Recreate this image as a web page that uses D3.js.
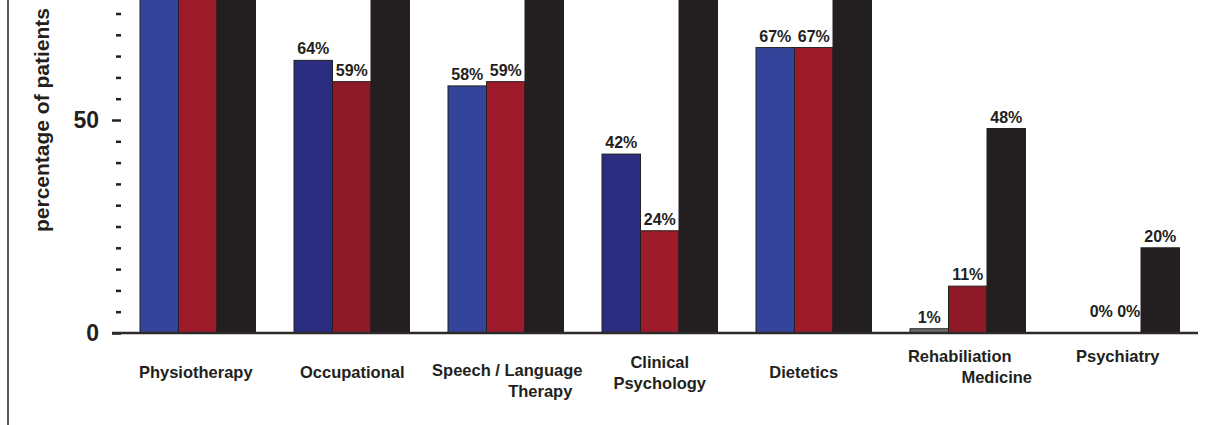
<!DOCTYPE html>
<html>
<head>
<meta charset="utf-8">
<script src="https://cdn.jsdelivr.net/npm/d3@7"></script>
<style>
    body { margin:0; background:#fff; }
    text { font-family: "Liberation Sans", Arial, sans-serif; font-weight:bold; fill:#231f20; }
</style>
</head>
<body>
<div id="chart-area"></div>
<script>
// ---- Data (top of the chart is cut off) ----
let categories = ["Physiotherapy", "Occupational", "Speech / Language Therapy",
    "Clinical Psychology", "Dietetics", "Rehabiliation Medicine", "Psychiatry"];
let categoryLines = [["Physiotherapy"], ["Occupational"], ["Speech / Language", "Therapy"],
    ["Clinical", "Psychology"], ["Dietetics"], ["Rehabiliation", "Medicine"], ["Psychiatry"]];
let seriesBlue  = [92, 64, 58, 42, 67, 1, 0];
let seriesRed   = [95, 59, 59, 24, 67, 11, 0];
let seriesBlack = [99, 84, 86, 88, 90, 48, 20];
let majorTicks = [0, 50];
let minorTicks = [5, 10, 15, 20, 25, 30, 35, 40, 45, 55, 60, 65, 70, 75, 80, 85, 90, 95];

// ---- Styling / layout (kept apart from the data) ----
let blueFill  = ["#33449a", "#2b2d80", "#33449a", "#2b2d80", "#33449a", "#6d6e71", "#33449a"];
let redFill   = ["#9e1b2b", "#8e1a28", "#9e1b2b", "#9e1b2b", "#9e1b2b", "#8e1a28", "#8e1a28"];
let blackFill = "#231f20";
// baseline of the first label line, and horizontal shift of each line from the group centre
let labelLayout = [
    { y:378, dx:[-2] }, { y:378, dx:[0.5] }, { y:376, dx:[1.5, 34.5] },
    { y:368, dx:[0, 0] }, { y:378, dx:[-10] }, { y:362, dx:[-8, 29] }, { y:362, dx:[-4] }
];

let width = 1215, height = 425;

let svg = d3.select("#chart-area").append("svg")
    .attr("width", width)
    .attr("height", height);

// left frame line
svg.append("line")
    .attr("x1", 8).attr("x2", 8)
    .attr("y1", 0).attr("y2", height)
    .attr("stroke", "#231f20")
    .attr("stroke-width", 1.5);

// ---- Scales ----
let x0 = d3.scaleBand()
    .domain(categories)
    .range([120.75, 1198.75])
    .paddingInner(0.25)
    .paddingOuter(0.125);

let x1 = d3.scaleBand()
    .domain(["blue", "red", "black"])
    .range([0, x0.bandwidth()]);

let y = d3.scaleLinear()
    .domain([0, 100])
    .range([333, 333 - 100 * 4.26]);

// ---- Axis ----
let axisX = 121;
let minorAxis = d3.axisLeft(y).tickValues(minorTicks).tickSize(5).tickFormat("");
let majorAxis = d3.axisLeft(y).tickValues(majorTicks).tickSize(9).tickPadding(13);

let gMinor = svg.append("g")
    .attr("transform", "translate(" + axisX + ",0)")
    .call(minorAxis);
gMinor.select(".domain").remove();
gMinor.selectAll(".tick line").attr("stroke", "#231f20").attr("stroke-width", 2.5);

let gMajor = svg.append("g")
    .attr("transform", "translate(" + axisX + ",0)")
    .call(majorAxis);
gMajor.select(".domain").remove();
gMajor.selectAll(".tick line").attr("stroke", "#231f20").attr("stroke-width", 2.5);
gMajor.selectAll(".tick text")
    .attr("font-size", "23px")
    .attr("font-family", "Liberation Sans, Arial, sans-serif")
    .attr("font-weight", "bold")
    .attr("fill", "#231f20");

// Y-axis label
svg.append("text")
    .attr("transform", "translate(49," + 120 + ") rotate(-90)")
    .attr("text-anchor", "middle")
    .attr("font-size", "21px")
    .text("percentage of patients");

// ---- Bars ----
let rows = categories.map(function(c, i){
    return [
        { cat:c, i:i, key:"blue",  value:seriesBlue[i],  fill:blueFill[i] },
        { cat:c, i:i, key:"red",   value:seriesRed[i],   fill:redFill[i] },
        { cat:c, i:i, key:"black", value:seriesBlack[i], fill:blackFill }
    ];
});

let groups = svg.selectAll(".group")
    .data(rows)
    .enter().append("g")
    .attr("class", "group")
    .attr("transform", function(d){ return "translate(" + x0(d[0].cat) + ",0)"; });

groups.selectAll("rect")
    .data(function(d){ return d; })
    .enter().append("rect")
    .attr("x", function(d){ return x1(d.key); })
    .attr("y", function(d){ return y(d.value); })
    .attr("width", x1.bandwidth())
    .attr("height", function(d){ return y(0) - y(d.value); })
    .attr("fill", function(d){ return d.fill; })
    .attr("stroke", "#231f20")
    .attr("stroke-width", 1);

// the two 0% labels in Psychiatry are pushed up and to the right
function labelNudge(d){
    if (d.value === 0 && d.key === "blue") return [18, -10];
    if (d.value === 0 && d.key === "red") return [7, -10];
    return [0, 0];
}

// labels of bars running past the top edge are cropped away in the picture
groups.selectAll(".value-label")
    .data(function(d){ return d.filter(function(b){ return y(b.value) - 20 > 0; }); })
    .enter().append("text")
    .attr("class", "value-label")
    .attr("x", function(d){ return x1(d.key) + x1.bandwidth() / 2 + labelNudge(d)[0]; })
    .attr("y", function(d){ return y(d.value) - 6 + labelNudge(d)[1]; })
    .attr("text-anchor", "middle")
    .attr("font-size", "16px")
    .text(function(d){ return d.value + "%"; });

// baseline
svg.append("line")
    .attr("x1", 112).attr("x2", 1198)
    .attr("y1", y(0)).attr("y2", y(0))
    .attr("stroke", "#2e2a2b")
    .attr("stroke-width", 2.5);

// ---- Category labels ----
categories.forEach(function(c, i){
    let cx = x0(c) + x0.bandwidth() / 2;
    let t = svg.append("text")
        .attr("text-anchor", "middle")
        .attr("font-size", "16.5px");
    categoryLines[i].forEach(function(line, j){
        t.append("tspan")
            .attr("x", cx + labelLayout[i].dx[j])
            .attr("y", labelLayout[i].y + j * 21)
            .text(line);
    });
});
</script>
</body>
</html>
